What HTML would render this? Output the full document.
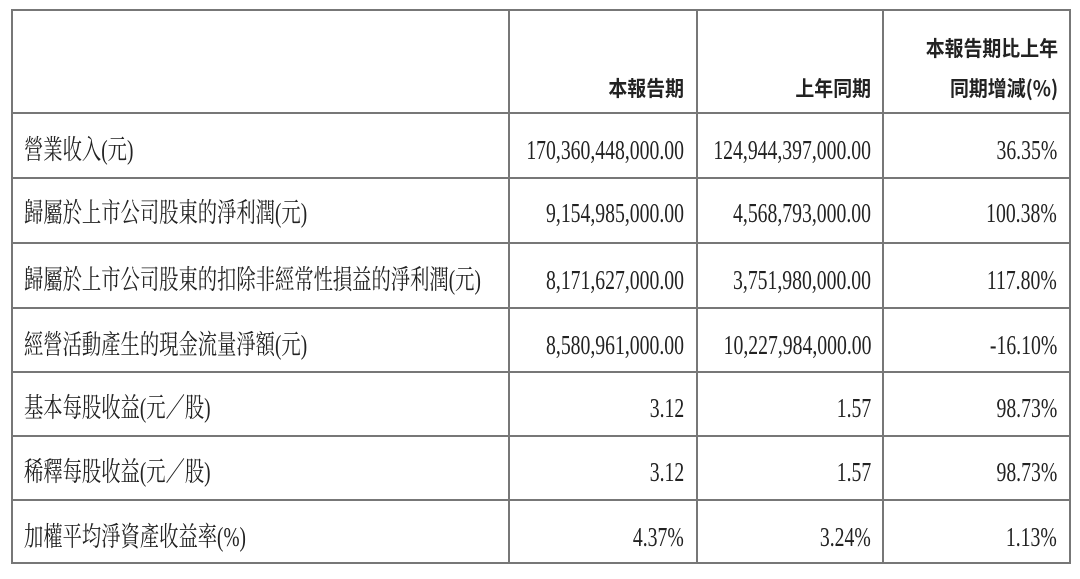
<!DOCTYPE html>
<html><head><meta charset="utf-8"><style>
body{margin:0;width:1080px;height:579px;background:#fff;position:relative;overflow:hidden;font-family:"Liberation Serif","Noto Serif CJK SC","Noto Sans CJK TC",serif;color:#222}
.h{position:absolute;background:#777;height:2px}
.v{position:absolute;background:#777;width:2px}
.t{position:absolute;font-size:27px;line-height:30px;white-space:nowrap}
.l{transform:scaleX(0.715);transform-origin:left center}
.r{transform:scaleX(0.73);transform-origin:right center;text-align:right}
.hd{font-family:"Noto Sans CJK TC","Noto Sans CJK SC",sans-serif;font-size:21px;font-weight:bold;transform:scaleX(0.9);transform-origin:right center}
</style></head><body>
<div class="h" style="left:11px;top:9px;width:1060px"></div>
<div class="h" style="left:11px;top:112px;width:1060px"></div>
<div class="h" style="left:11px;top:177px;width:1060px"></div>
<div class="h" style="left:11px;top:242px;width:1060px"></div>
<div class="h" style="left:11px;top:307px;width:1060px"></div>
<div class="h" style="left:11px;top:371px;width:1060px"></div>
<div class="h" style="left:11px;top:435px;width:1060px"></div>
<div class="h" style="left:11px;top:499px;width:1060px"></div>
<div class="h" style="left:11px;top:562px;width:1060px"></div>
<div class="v" style="left:11px;top:9px;height:555px"></div>
<div class="v" style="left:508px;top:9px;height:555px"></div>
<div class="v" style="left:696px;top:9px;height:555px"></div>
<div class="v" style="left:882px;top:9px;height:555px"></div>
<div class="v" style="left:1069px;top:9px;height:555px"></div>

<div class="t hd" style="right:396px;top:73px">本報告期</div>
<div class="t hd" style="right:209px;top:73px">上年同期</div>
<div class="t hd" style="right:22px;top:33px">本報告期比上年</div>
<div class="t hd" style="right:22px;top:73px">同期增減(%)</div>

<div class="t l" style="left:24px;top:135px">營業收入(元)</div>
<div class="t l" style="left:24px;top:198px">歸屬於上市公司股東的淨利潤(元)</div>
<div class="t l" style="left:24px;top:265px">歸屬於上市公司股東的扣除非經常性損益的淨利潤(元)</div>
<div class="t l" style="left:24px;top:330px">經營活動產生的現金流量淨額(元)</div>
<div class="t l" style="left:24px;top:393px">基本每股收益(元／股)</div>
<div class="t l" style="left:24px;top:457px">稀釋每股收益(元／股)</div>
<div class="t l" style="left:24px;top:522px">加權平均淨資產收益率(%)</div>

<div class="t r" style="right:396px;top:135px">170,360,448,000.00</div>
<div class="t r" style="right:396px;top:198px">9,154,985,000.00</div>
<div class="t r" style="right:396px;top:265px">8,171,627,000.00</div>
<div class="t r" style="right:396px;top:330px">8,580,961,000.00</div>
<div class="t r" style="right:396px;top:393px">3.12</div>
<div class="t r" style="right:396px;top:457px">3.12</div>
<div class="t r" style="right:396px;top:522px">4.37%</div>

<div class="t r" style="right:209px;top:135px">124,944,397,000.00</div>
<div class="t r" style="right:209px;top:198px">4,568,793,000.00</div>
<div class="t r" style="right:209px;top:265px">3,751,980,000.00</div>
<div class="t r" style="right:209px;top:330px">10,227,984,000.00</div>
<div class="t r" style="right:209px;top:393px">1.57</div>
<div class="t r" style="right:209px;top:457px">1.57</div>
<div class="t r" style="right:209px;top:522px">3.24%</div>

<div class="t r" style="right:23px;top:135px">36.35%</div>
<div class="t r" style="right:23px;top:198px">100.38%</div>
<div class="t r" style="right:23px;top:265px">117.80%</div>
<div class="t r" style="right:23px;top:330px">-16.10%</div>
<div class="t r" style="right:23px;top:393px">98.73%</div>
<div class="t r" style="right:23px;top:457px">98.73%</div>
<div class="t r" style="right:23px;top:522px">1.13%</div>
</body></html>
